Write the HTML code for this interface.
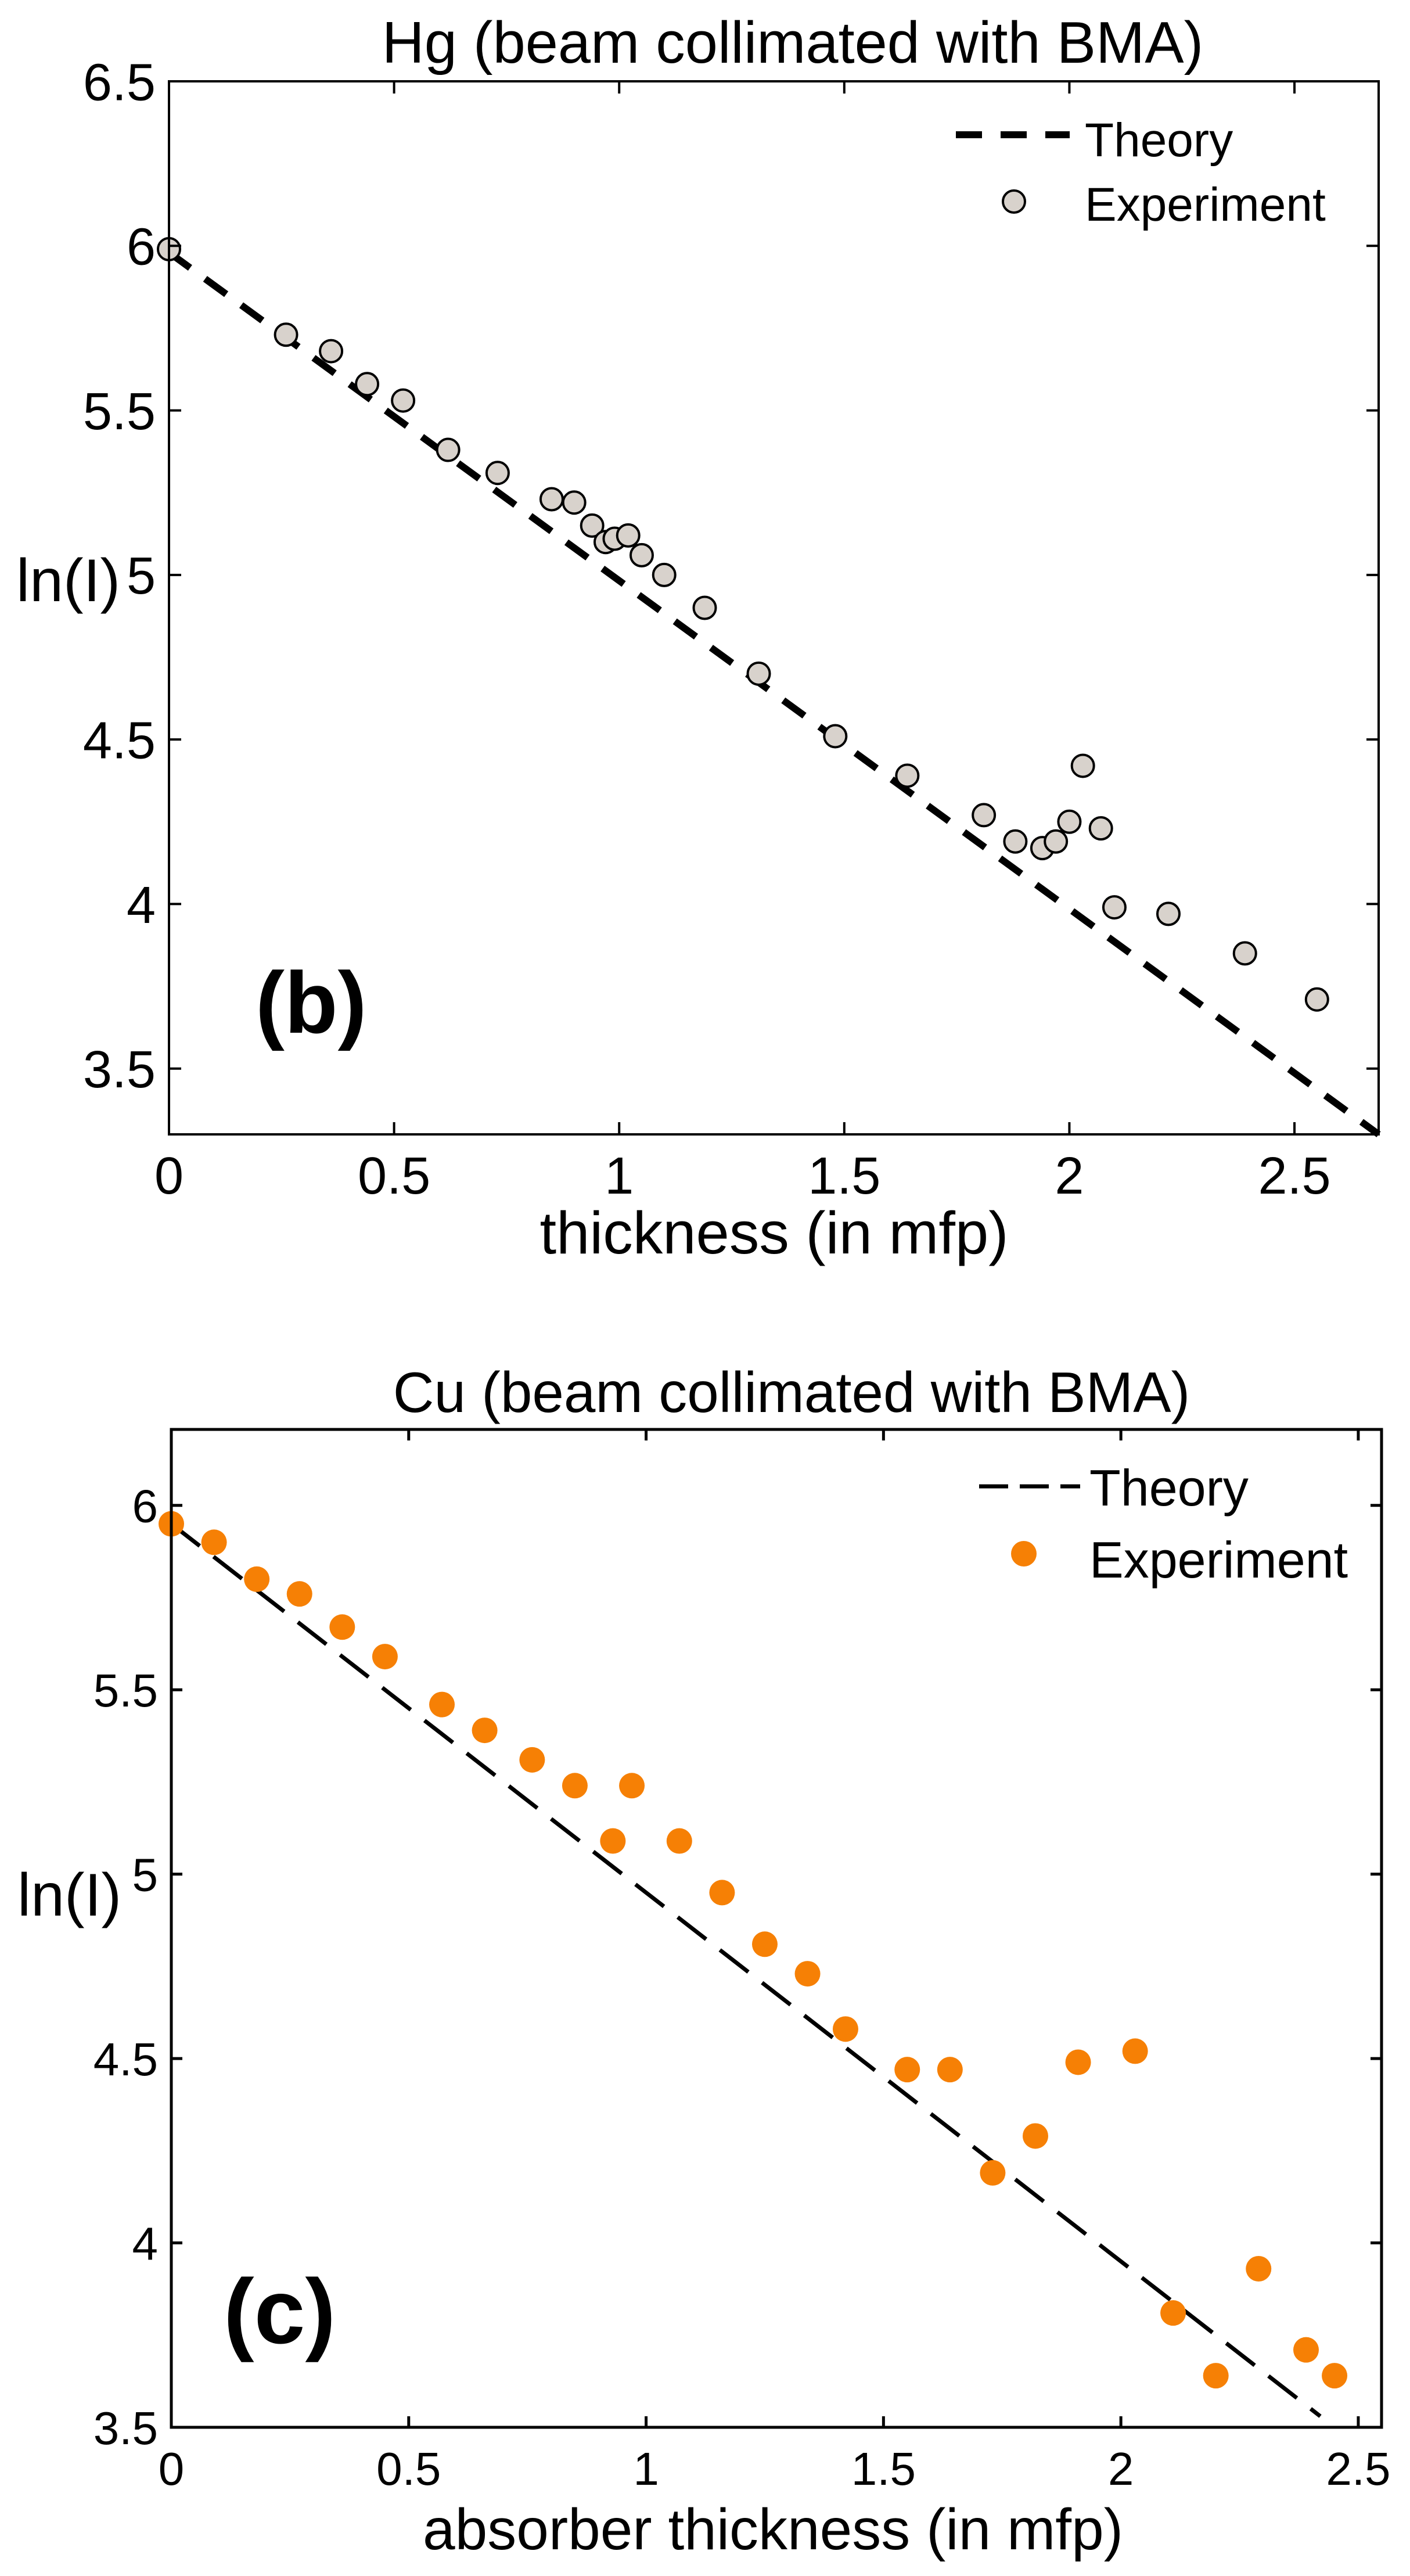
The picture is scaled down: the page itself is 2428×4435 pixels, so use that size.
<!DOCTYPE html>
<html><head><meta charset="utf-8"><style>
html,body{margin:0;padding:0;background:#fff;}
svg{display:block;font-family:"Liberation Sans",Arial,sans-serif;}
</style></head><body>
<svg id="chart" width="2428" height="4435" viewBox="0 0 2428 4435" xmlns="http://www.w3.org/2000/svg">
<rect x="0" y="0" width="2428" height="4435" fill="#fff"/>
<g id="topchart"></g>
<g id="botchart"></g>
</svg>
<script>
// ---- Hg chart data ----
const hgX = [0,0.26,0.36,0.44,0.52,0.62,0.73,0.85,0.90,0.94,0.97,0.99,1.02,1.05,1.10,1.19,1.31,1.48,1.64,1.81,1.88,1.94,1.97,2.00,2.03,2.07,2.10,2.22,2.39,2.55];
const hgY = [5.99,5.73,5.68,5.58,5.53,5.38,5.31,5.23,5.22,5.15,5.10,5.11,5.12,5.06,5.00,4.90,4.70,4.51,4.39,4.27,4.19,4.17,4.19,4.25,4.42,4.23,3.99,3.97,3.85,3.71];
const hgTheoryX = [0,2.687];
const hgTheoryY = [5.98,3.30];
const hgXTicks = [0,0.5,1,1.5,2,2.5];
const hgXTickLabels = ["0","0.5","1","1.5","2","2.5"];
const hgYTicks = [3.5,4,4.5,5,5.5,6,6.5];
const hgYTickLabels = ["3.5","4","4.5","5","5.5","6","6.5"];
// ---- Cu chart data ----
const cuX = [0,0.09,0.18,0.27,0.36,0.45,0.57,0.66,0.76,0.85,0.93,0.97,1.07,1.16,1.25,1.34,1.42,1.55,1.64,1.73,1.82,1.91,2.03,2.11,2.20,2.29,2.39,2.45];
const cuY = [5.95,5.90,5.80,5.76,5.67,5.59,5.46,5.39,5.31,5.24,5.09,5.24,5.09,4.95,4.81,4.73,4.58,4.47,4.47,4.19,4.29,4.49,4.52,3.81,3.64,3.93,3.71,3.64];
const cuTheoryX = [0,2.42];
const cuTheoryY = [5.95,3.53];
const cuXTicks = [0,0.5,1,1.5,2,2.5];
const cuXTickLabels = ["0","0.5","1","1.5","2","2.5"];
const cuYTicks = [3.5,4,4.5,5,5.5,6];
const cuYTickLabels = ["3.5","4","4.5","5","5.5","6"];

const NS="http://www.w3.org/2000/svg";
function mk(parent,tag,attrs,text){const e=document.createElementNS(NS,tag);for(const k in attrs)e.setAttribute(k,attrs[k]);if(text!==undefined)e.textContent=text;parent.appendChild(e);return e;}

function drawChart(g,cfg){
  const sx=v=>cfg.x0+(v-cfg.xmin)*(cfg.x1-cfg.x0)/(cfg.xmax-cfg.xmin);
  const sy=v=>cfg.y1-(v-cfg.ymin)*(cfg.y1-cfg.y0)/(cfg.ymax-cfg.ymin);
  const th=mk(g,'line',{x1:sx(cfg.tx[0]),y1:sy(cfg.ty[0]),x2:sx(cfg.tx[1]),y2:sy(cfg.ty[1]),stroke:'#000','stroke-width':cfg.tw,'stroke-dasharray':cfg.dash});
  
  
  for(let i=0;i<cfg.px.length;i++){
    const c=mk(g,'circle',{cx:sx(cfg.px[i]),cy:sy(cfg.py[i]),r:cfg.r,fill:cfg.fill,stroke:cfg.stroke,'stroke-width':cfg.sw});
    
    
  }
  const fr=mk(g,'rect',{x:cfg.x0,y:cfg.y0,width:cfg.x1-cfg.x0,height:cfg.y1-cfg.y0,fill:'none',stroke:'#000','stroke-width':cfg.aw});
  
  
  for(let i=0;i<cfg.xt.length;i++){
    const x=sx(cfg.xt[i]);
    mk(g,'line',{x1:x,y1:cfg.y1,x2:x,y2:cfg.y1-cfg.tl,stroke:'#000','stroke-width':cfg.aw});
    mk(g,'line',{x1:x,y1:cfg.y0,x2:x,y2:cfg.y0+cfg.tl,stroke:'#000','stroke-width':cfg.aw});
    const t=mk(g,'text',{x:x,y:cfg.xlabY,'font-size':cfg.tf,'text-anchor':'middle'},cfg.xtl[i]);
    
    
  }
  for(let i=0;i<cfg.yt.length;i++){
    const y=sy(cfg.yt[i]);
    mk(g,'line',{x1:cfg.x0,y1:y,x2:cfg.x0+cfg.tl,y2:y,stroke:'#000','stroke-width':cfg.aw});
    mk(g,'line',{x1:cfg.x1,y1:y,x2:cfg.x1-cfg.tl,y2:y,stroke:'#000','stroke-width':cfg.aw});
    const t=mk(g,'text',{x:cfg.ylabX,y:y+cfg.tf*0.36,'font-size':cfg.tf,'text-anchor':'end'},cfg.ytl[i]);
    
    
  }
  const lg=mk(g,'g',{});
  
  
  mk(lg,'line',{x1:cfg.leg.dx0,y1:cfg.leg.dy,x2:cfg.leg.dx1,y2:cfg.leg.dy,stroke:'#000','stroke-width':cfg.tw,'stroke-dasharray':cfg.legdash});
  mk(lg,'text',{x:cfg.leg.tx,y:cfg.leg.t1y,'font-size':cfg.leg.f},'Theory');
  mk(lg,'circle',{cx:cfg.leg.mx,cy:cfg.leg.my,r:cfg.r,fill:cfg.fill,stroke:cfg.stroke,'stroke-width':cfg.sw});
  mk(lg,'text',{x:cfg.leg.tx,y:cfg.leg.t2y,'font-size':cfg.leg.f},'Experiment');
}

const topG=document.getElementById('topchart');
drawChart(topG,{x0:291,x1:2374,y0:140,y1:1953,xmin:0,xmax:2.687,ymin:3.30,ymax:6.5,
  tx:hgTheoryX,ty:hgTheoryY,tw:12,dash:'45 32',px:hgX,py:hgY,r:19,fill:'#d8d2cc',stroke:'#000',sw:4,aw:4,tl:21,
  xt:hgXTicks,xtl:hgXTickLabels,yt:hgYTicks,ytl:hgYTickLabels,tf:90,xlabY:2055,ylabX:268,
  legdash:'45 32',leg:{dx0:1646,dx1:1842,dy:232,tx:1868,t1y:269,t2y:380,mx:1746,my:347,f:82}});
mk(topG,'text',{x:1365,y:108,'font-size':101,'text-anchor':'middle',},'Hg (beam collimated with BMA)');
mk(topG,'text',{x:28,y:1035,'font-size':104,},'ln(I)');
mk(topG,'text',{x:1333,y:2158,'font-size':103,'text-anchor':'middle',},'thickness (in mfp)');
mk(topG,'text',{x:440,y:1778,'font-size':150,'font-weight':'bold',},'(b)');

const botG=document.getElementById('botchart');
drawChart(botG,{x0:295,x1:2379,y0:2461,y1:4179,xmin:0,xmax:2.549,ymin:3.5,ymax:6.206,
  tx:cuTheoryX,ty:cuTheoryY,tw:7,dash:'62 30',px:cuX,py:cuY,r:22,fill:'#f68005',stroke:'none',sw:0,aw:5,tl:19,
  xt:cuXTicks,xtl:cuXTickLabels,yt:cuYTicks,ytl:cuYTickLabels,tf:80,xlabY:4278,ylabX:272,
  legdash:'50 20',leg:{dx0:1686,dx1:1860,dy:2559,tx:1876,t1y:2592,t2y:2716,mx:1763,my:2675,f:88}});
mk(botG,'text',{x:1363,y:2431,'font-size':98,'text-anchor':'middle',},'Cu (beam collimated with BMA)');
mk(botG,'text',{x:30,y:3298,'font-size':104,},'ln(I)');
mk(botG,'text',{x:1331,y:4389,'font-size':100,'text-anchor':'middle',},'absorber thickness (in mfp)');
mk(botG,'text',{x:385,y:4034,'font-size':158,'font-weight':'bold',},'(c)');
</script>
</body></html>
